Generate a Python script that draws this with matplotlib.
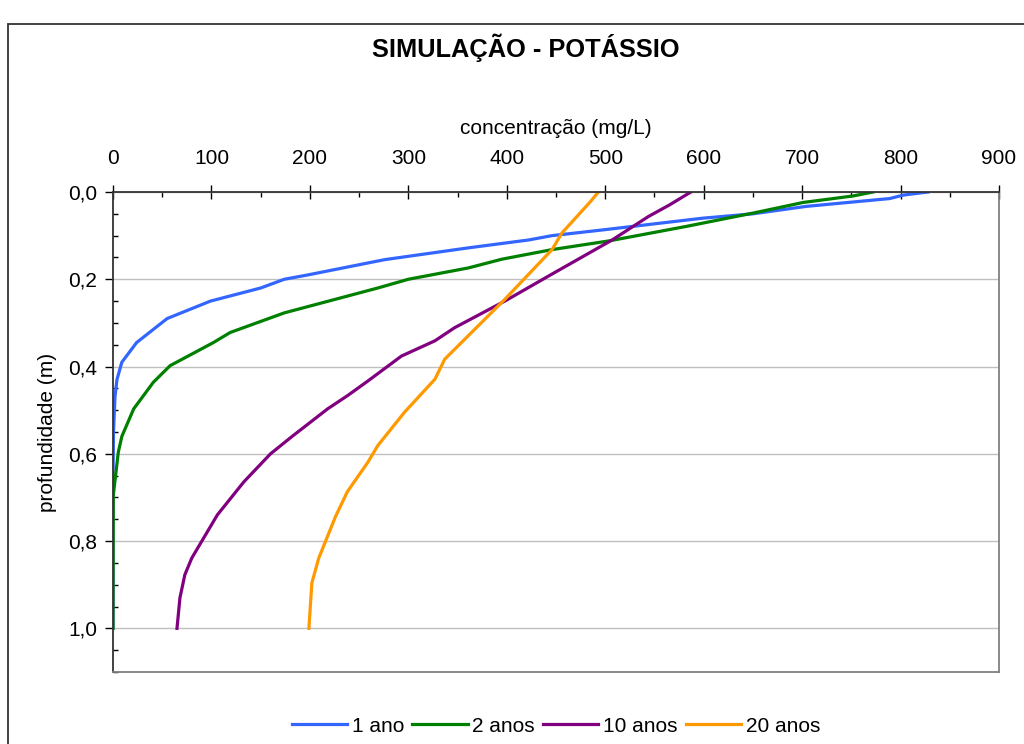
import matplotlib

matplotlib.use("Agg")
import matplotlib.pyplot as plt  # noqa: E402
from matplotlib.patches import Rectangle  # noqa: E402
from matplotlib.ticker import FuncFormatter, MultipleLocator  # noqa: E402

plt.rcParams["font.family"] = ["Liberation Sans", "DejaVu Sans"]

# depth (m) and concentration (mg/L)
depth_1 = [0.0, 0.007, 0.015, 0.033, 0.05, 0.06, 0.087, 0.10, 0.11, 0.128, 0.155, 0.19,
           0.20, 0.22, 0.25, 0.29, 0.345, 0.39, 0.43, 0.47, 0.55, 0.66, 1.0]
conc_1 = [828, 803, 789, 704, 650, 599, 497, 446, 422, 361, 276, 198,
          174, 150, 99, 55, 24, 9, 4, 2, 0.5, 0, 0]

depth_2 = [0.0, 0.009, 0.024, 0.047, 0.079, 0.112, 0.132, 0.154, 0.174, 0.20, 0.22, 0.277,
           0.322, 0.345, 0.398, 0.436, 0.497, 0.56, 0.596, 0.695, 1.0]
conc_2 = [772, 752, 701, 653, 582, 504, 446, 395, 361, 300, 269, 174,
          119, 102, 58, 41, 21, 9, 5.4, 0.3, 0]

depth_10 = [0.0, 0.03, 0.056, 0.11, 0.188, 0.25, 0.311, 0.341, 0.376, 0.433, 0.467, 0.497,
            0.56, 0.60, 0.664, 0.74, 0.839, 0.877, 0.93, 1.0]
conc_10 = [587, 565, 544, 507, 446, 398, 347, 327, 293, 259, 238, 218,
           182, 160, 133, 106, 80, 73, 68, 65]

depth_20 = [0.0, 0.022, 0.094, 0.132, 0.246, 0.383, 0.429, 0.505, 0.581, 0.619, 0.687, 0.744,
            0.839, 0.896, 1.0]
conc_20 = [493, 485, 456, 446, 398, 337, 327, 296, 269, 259, 238, 226,
           209, 202, 199]

series = [
    ("1 ano", depth_1, conc_1, "#3366FF"),
    ("2 anos", depth_2, conc_2, "#008000"),
    ("10 anos", depth_10, conc_10, "#800080"),
    ("20 anos", depth_20, conc_20, "#FF9900"),
]

fig = plt.figure(figsize=(10.24, 7.44), dpi=100)
ax = fig.add_axes([113 / 1024, 1 - 672 / 744, 886 / 1024, 480 / 744])

for label, depth, conc, color in series:
    ax.plot(conc, depth, color=color, linewidth=2.3, label=label)

ax.set_xlim(0, 900)
ax.set_ylim(1.1, 0)
ax.xaxis.set_major_locator(MultipleLocator(100))
ax.xaxis.set_minor_locator(MultipleLocator(50))
ax.yaxis.set_major_locator(MultipleLocator(0.2))
ax.yaxis.set_minor_locator(MultipleLocator(0.05))
ax.yaxis.set_major_formatter(FuncFormatter(lambda v, pos: f"{v:.1f}".replace(".", ",")))
ax.xaxis.tick_top()
ax.xaxis.set_label_position("top")
ax.tick_params(axis="x", which="major", direction="inout", length=10, width=1.0,
               labelsize=15, pad=12)
ax.tick_params(axis="y", which="major", direction="out", length=5.5, width=1.0,
               labelsize=15, pad=6)
ax.tick_params(which="minor", direction="in", length=3.5, width=1.0)
ax.grid(axis="y", which="major", color="#C0C0C0", linewidth=1.0)
ax.set_axisbelow(True)

for side in ("top", "left"):
    ax.spines[side].set_color("#333333")
    ax.spines[side].set_linewidth(1.3)
for side in ("right", "bottom"):
    ax.spines[side].set_color("#808080")
    ax.spines[side].set_linewidth(1.3)

ax.set_xlabel("concentração (mg/L)", fontsize=15, labelpad=11)
ax.set_ylabel("profundidade (m)", fontsize=15, labelpad=8)

fig.text(526 / 1024, 1 - 48 / 744, "SIMULAÇÃO - POTÁSSIO", ha="center", va="center",
         fontsize=18.3, fontweight="bold")

fig.legend(loc="center", bbox_to_anchor=(556 / 1024, 1 - 726 / 744), ncol=4, frameon=False,
           fontsize=15, handlelength=2.65, handletextpad=0.22, columnspacing=0.4)

fig.patches.append(Rectangle((8 / 1024, -0.05), 1.1, 0.05 + 1 - 24 / 744, fill=False,
                             edgecolor="#333333", linewidth=1.3, transform=fig.transFigure,
                             clip_on=False))

fig.savefig("out.png", dpi=100)
plt.close(fig)
